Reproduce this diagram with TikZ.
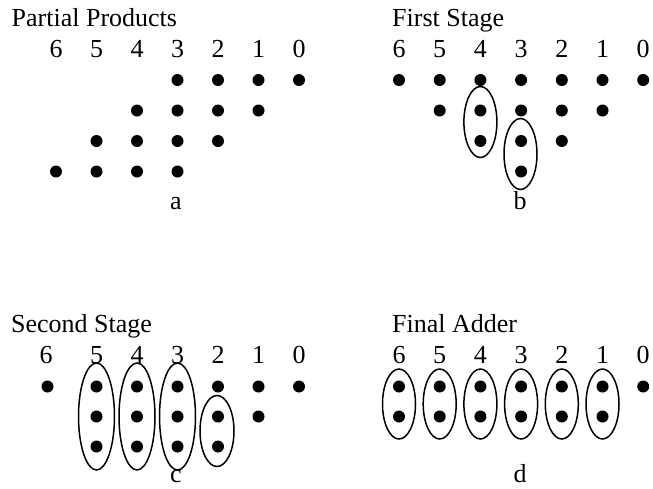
\documentclass[tikz,border=0pt]{standalone}
\usepackage{fontspec}
\setmainfont{Liberation Serif}
\usetikzlibrary{shapes.geometric}
\begin{document}
\begin{tikzpicture}[x=1pt,y=-1pt,
  dotnode/.style={circle,fill=black,inner sep=0pt,minimum size=12pt},
  grp/.style={ellipse,draw=black,line width=1.5pt,inner sep=0pt},
  txt/.style={inner sep=0pt,font=\fontsize{26}{30}\selectfont},
  title/.style={txt,anchor=base west},
  collab/.style={txt,anchor=base},
]
\useasboundingbox (0,0) rectangle (653,488);
% ---------- panel a ----------
\node[title] (ta) at (11.5,26) {Partial Products};
\foreach \c in {6,...,0} {
  \node[collab] (la\c) at ({56+40.5*(6-\c)},57) {\c};
}
\foreach \c in {3,2,1,0} \node[dotnode] (a1\c) at ({56+40.5*(6-\c)},80) {};
\foreach \c in {4,3,2,1} \node[dotnode] (a2\c) at ({56+40.5*(6-\c)},110.5) {};
\foreach \c in {5,4,3,2} \node[dotnode] (a3\c) at ({56+40.5*(6-\c)},141) {};
\foreach \c in {6,5,4,3} \node[dotnode] (a4\c) at ({56+40.5*(6-\c)},171.5) {};
\node[collab] (sa) at (176,209.5) {a};
% ---------- panel b ----------
\node[title] (tb) at (392,26) {First Stage};
\foreach \c in {6,...,0} {
  \node[collab] (lb\c) at ({399+40.7*(6-\c)},57) {\c};
}
\foreach \c in {6,...,0} \node[dotnode] (b1\c) at ({399+40.7*(6-\c)},80) {};
\foreach \c in {5,4,3,2,1} \node[dotnode] (b2\c) at ({399+40.7*(6-\c)},110.5) {};
\foreach \c in {4,3,2} \node[dotnode] (b3\c) at ({399+40.7*(6-\c)},141) {};
\foreach \c in {3} \node[dotnode] (b4\c) at ({399+40.7*(6-\c)},171.5) {};
\node[grp,minimum width=33pt,minimum height=71pt] (eb4) at (480.4,122) {};
\node[grp,minimum width=33pt,minimum height=71pt] (eb3) at (520.5,154) {};
\node[collab] (sb) at (520,209.5) {b};
% ---------- panel c ----------
\node[title] (tc) at (11,332) {Second Stage};
\node[collab] (lc6) at (46,363) {6};
\foreach \c in {5,...,0} {
  \node[collab] (lc\c) at ({56+40.5*(6-\c)},363) {\c};
}
\node[dotnode] (c16) at (47.5,386.5) {};
\foreach \c in {5,...,0} \node[dotnode] (c1\c) at ({56+40.5*(6-\c)},386.5) {};
\foreach \c in {5,4,3,2,1} \node[dotnode] (c2\c) at ({56+40.5*(6-\c)},416.5) {};
\foreach \c in {5,4,3,2} \node[dotnode] (c3\c) at ({56+40.5*(6-\c)},446.5) {};
\foreach \c in {5,4,3} \node[grp,minimum width=36pt,minimum height=107pt] (ec\c) at ({56+40.5*(6-\c)},416.5) {};
\node[grp,minimum width=34pt,minimum height=71pt] (ec2) at (217,431) {};
\node[collab] (sc) at (176,482) {c};
% ---------- panel d ----------
\node[title] (td) at (392,332) {Final Adder};
\foreach \c in {6,...,0} {
  \node[collab] (ld\c) at ({399+40.7*(6-\c)},363) {\c};
}
\foreach \c in {6,...,0} \node[dotnode] (d1\c) at ({399+40.7*(6-\c)},386.5) {};
\foreach \c in {6,...,1} \node[dotnode] (d2\c) at ({399+40.7*(6-\c)},416.5) {};
\foreach \c in {6,...,1} \node[grp,minimum width=33pt,minimum height=70pt] (ed\c) at ({399+40.7*(6-\c)},404) {};
\node[collab] (sd) at (520,482) {d};
\end{tikzpicture}
\end{document}
